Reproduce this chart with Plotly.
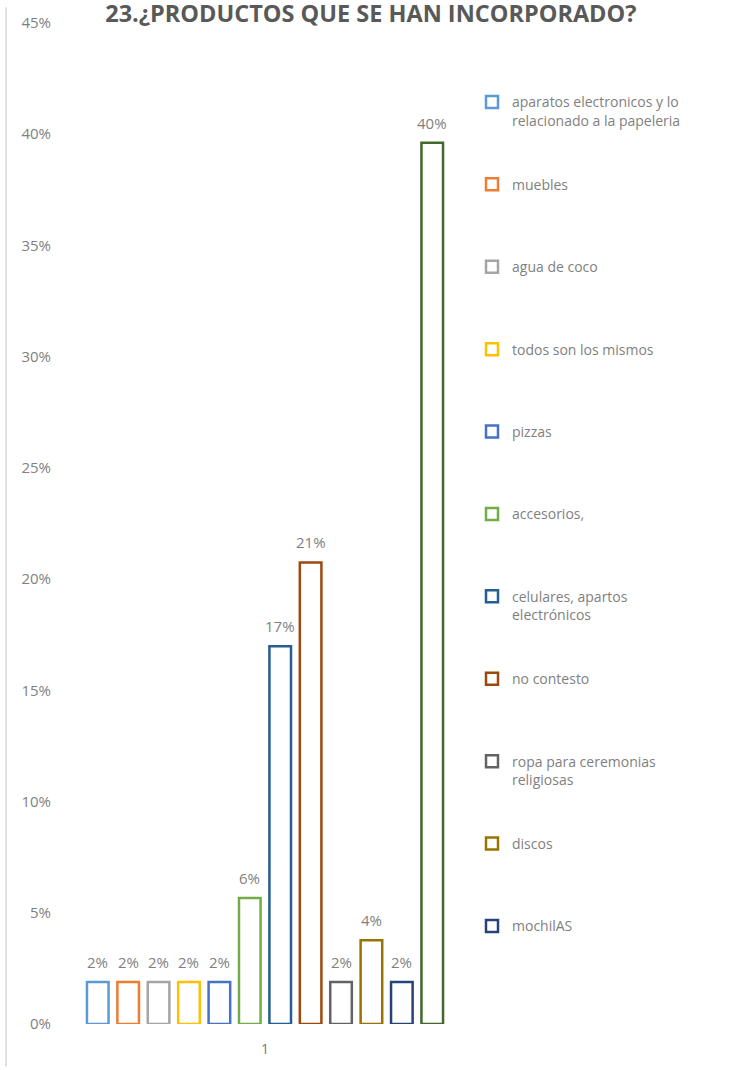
import plotly.graph_objects as go

# Survey question 23: share of answers per product (n = 53)
categories = ["1"]
labels = [
    "aparatos electronicos y lo<br>relacionado a la papeleria",
    "muebles",
    "agua de coco",
    "todos son los mismos",
    "pizzas",
    "accesorios,",
    "celulares, apartos<br>electrónicos",
    "no contesto",
    "ropa para ceremonias<br>religiosas",
    "discos",
    "mochilAS",
    "",  # last series has no legend entry
]
shares = [0.0189, 0.0189, 0.0189, 0.0189, 0.0189, 0.0566,
          0.1698, 0.2075, 0.0189, 0.0377, 0.0189, 0.3962]
colors = ["#5B9BD5", "#ED7D31", "#A5A5A5", "#FFC000", "#4472C4", "#70AD47",
          "#255E91", "#9E480E", "#636363", "#997300", "#264478", "#43682B"]
y_ticks = [0, 0.05, 0.10, 0.15, 0.20, 0.25, 0.30, 0.35, 0.40, 0.45]

W, H = 730, 1070
ML, MR, MT, MB = 60, 260, 16, 43
BARGAP, GROUPGAP = 0.11, 0.29
TXT = "#7f7f7f"
FONT = "Open Sans"

fig = go.Figure()
n = len(shares)
for i in range(n):
    name = labels[i]
    # every legend entry spans two lines so the entries are evenly spaced
    legend_text = name if "<br>" in name else name + "<br>\u00a0"
    fig.add_trace(go.Bar(
        x=categories,
        y=[shares[i]],
        name=legend_text,
        legendgroup=f"g{i}",
        showlegend=bool(name),
        marker=dict(color="white", line=dict(color=colors[i], width=2.5)),
        hovertemplate="%{y:.1%}<extra></extra>",
    ))

# value labels above each bar (annotation x is the category's index on the axis)
plot_w = W - ML - MR
slot = plot_w * (1 - BARGAP) / n
cat_index = 0
for i in range(n):
    fig.add_annotation(
        x=cat_index, y=shares[i], xref="x", yref="y",
        text=f"{shares[i]:.0%}", showarrow=False,
        xanchor="center", yanchor="bottom",
        xshift=(i - (n - 1) / 2) * slot, yshift=8,
        font=dict(family=FONT, size=15, color=TXT),
    )

plot_h = H - MT - MB
# thin border line on the left edge of the chart area
fig.add_shape(type="line", xref="paper", yref="paper",
              x0=(6 - ML) / plot_w, x1=(6 - ML) / plot_w,
              y0=-(MB) / plot_h, y1=(H - MB) / plot_h,
              line=dict(color="#d9d9d9", width=1.5))

fig.update_layout(
    width=W, height=H,
    margin=dict(l=ML, r=MR, t=MT, b=MB),
    paper_bgcolor="white", plot_bgcolor="white",
    barmode="group", bargap=BARGAP, bargroupgap=GROUPGAP,
    title=dict(
        text="<b>23.¿PRODUCTOS QUE SE HAN INCORPORADO?</b>",
        x=0.508, xanchor="center", xref="container",
        y=1 - 22 / H, yanchor="bottom", yref="container",
        font=dict(family=FONT, size=23.5, color="#595959"),
    ),
    font=dict(family=FONT, color=TXT),
    xaxis=dict(
        type="category", range=[-0.5, 0.5], autorange=False,
        showgrid=False, showline=False, zeroline=False,
        ticks="", ticklabelstandoff=14,
        tickfont=dict(family=FONT, size=15, color=TXT),
    ),
    yaxis=dict(
        range=[0, 0.45], autorange=False, tickvals=y_ticks, tickformat=".0%",
        showgrid=False, showline=False, zeroline=False, ticks="",
        ticklabelstandoff=8,
        tickfont=dict(family=FONT, size=15, color=TXT),
    ),
    legend=dict(
        x=(472 - ML) / plot_w, xanchor="left",
        y=1 - (80 - MT) / plot_h, yanchor="top",
        traceorder="grouped", tracegroupgap=43, valign="top",
        font=dict(family=FONT, size=14, color=TXT),
        itemwidth=30,
    ),
    showlegend=True,
)

fig.write_html("out.html")
